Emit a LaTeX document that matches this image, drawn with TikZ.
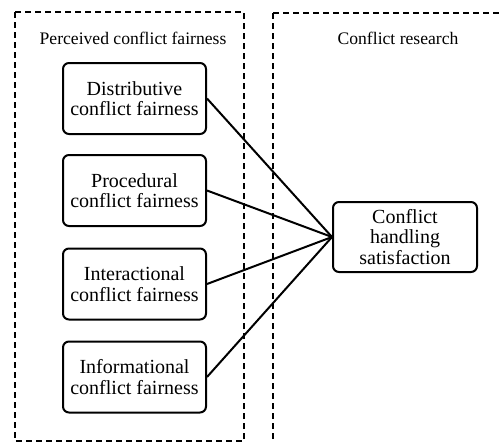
\documentclass[tikz,border=0pt]{standalone}
\usepackage{fontspec}
\setmainfont{Liberation Serif}
\begin{document}
\begin{tikzpicture}[x=1pt,y=-1pt,
  fairbox/.style={draw, line width=2pt, rounded corners=6pt, align=center,
    minimum width=143pt, minimum height=71pt, inner sep=2pt,
    font=\fontsize{20}{20.5}\selectfont},
  grouplabel/.style={font=\fontsize{17.6}{20}\selectfont, inner sep=0pt},
  groupframe/.style={draw, line width=1.8pt, dash pattern=on 6pt off 4pt},
  link/.style={line width=2pt}]
\useasboundingbox (0,0) rectangle (502,442);
\clip (0,0) rectangle (502,442);

% group frames
\draw[groupframe] (15,12) rectangle (244,441);
\draw[groupframe] (273,13) -- (515,13);
\draw[groupframe] (273,13) -- (273,455);

\node[grouplabel] (lblA) at (133,38) {Perceived conflict fairness};
\node[grouplabel] (lblB) at (398,38) {Conflict research};

% fairness dimensions
\node[fairbox] (dist) at (134.5,98.5) {Distributive\\conflict fairness};
\node[fairbox] (proc) at (134.5,190.5) {Procedural\\conflict fairness};
\node[fairbox] (inter) at (134.5,284) {Interactional\\conflict fairness};
\node[fairbox] (info) at (134.5,377) {Informational\\conflict fairness};

% outcome
\node[fairbox, minimum width=144pt, minimum height=70pt] (sat) at (405,237)
  {Conflict\\handling\\satisfaction};

\draw[link] (dist.east) -- (sat.west);
\draw[link] (proc.east) -- (sat.west);
\draw[link] (inter.east) -- (sat.west);
\draw[link] (info.east) -- (sat.west);
\end{tikzpicture}
\end{document}
